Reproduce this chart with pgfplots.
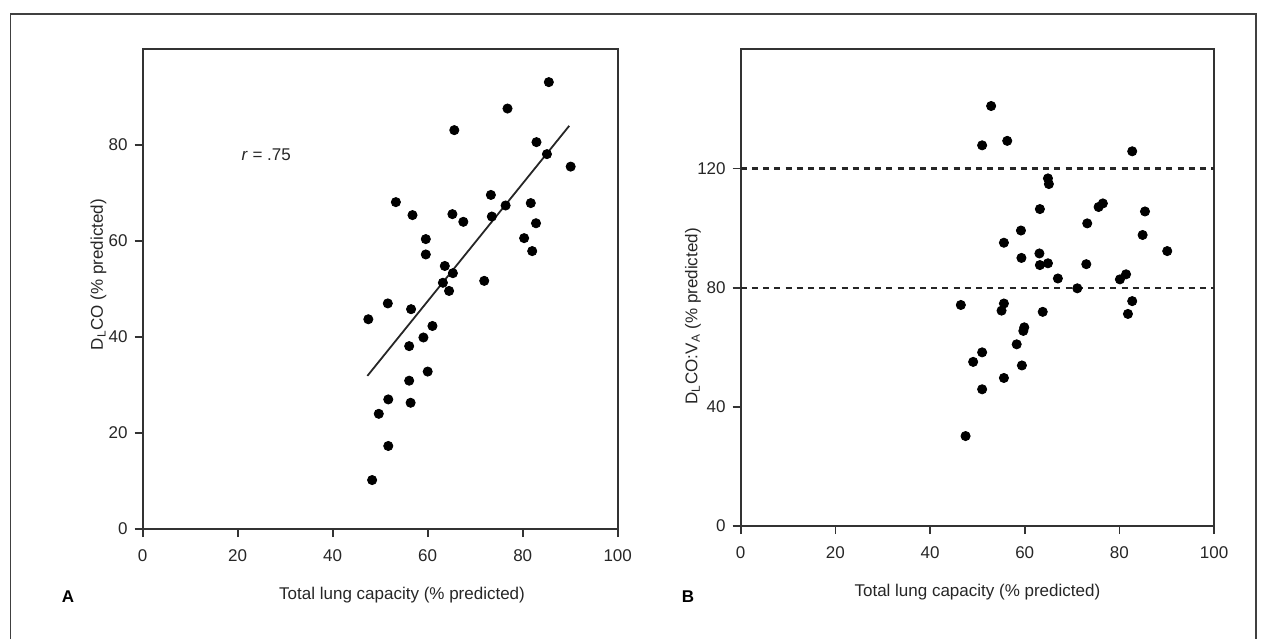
\documentclass[border=0pt]{standalone}
\usepackage{fontspec}
\setmainfont{Liberation Sans}
\usepackage{pgfplots}
\pgfplotsset{compat=1.18}

\pgfplotstableread{
x y
85.5 93.1
76.8 87.6
65.6 83.1
82.9 80.6
85.1 78.1
90.1 75.5
53.3 68.1
73.3 69.6
76.4 67.4
81.7 67.9
56.8 65.4
65.2 65.6
67.5 64.0
73.5 65.1
82.8 63.7
59.6 60.4
80.3 60.6
59.6 57.2
82.0 57.9
63.6 54.8
65.3 53.3
63.2 51.3
64.5 49.6
71.9 51.7
51.6 47.0
47.5 43.7
56.5 45.8
61.0 42.3
59.1 39.9
56.1 38.1
60.0 32.8
56.1 30.9
51.7 27.0
56.4 26.3
49.7 24.0
51.7 17.3
48.3 10.2
}\dataA

\pgfplotstableread{
x y
52.9 141.0
51.0 127.8
56.3 129.3
82.7 125.8
64.9 116.7
65.1 114.8
63.2 106.4
75.6 107.1
76.5 108.3
85.4 105.6
73.2 101.6
59.2 99.2
84.9 97.7
55.6 95.1
90.1 92.3
63.1 91.5
59.3 90.0
63.2 87.6
64.9 88.2
73.0 87.9
67.0 83.1
80.1 82.8
81.4 84.5
71.1 79.8
46.5 74.2
55.6 74.7
55.1 72.3
63.8 71.9
82.7 75.5
81.8 71.2
59.9 66.7
59.7 65.5
58.3 61.0
51.0 58.3
49.1 55.1
59.4 53.9
55.6 49.7
51.0 45.9
47.5 30.2
}\dataB

\pgfplotsset{
  myax/.style={
    scale only axis,
    axis line style={line width=1pt, black!80},
    tick style={line width=0.8pt, black!80},
    tick align=outside,
    xtick pos=bottom, ytick pos=left,
    major tick length=4pt,
    xmin=0, xmax=100, ymin=0,
    xtick={0,20,...,100},
    tick label style={font=\fontsize{8.5}{10}\selectfont, text=black!85},
    xticklabel style={yshift=-3pt},
    /pgf/number format/assume math mode=true,
    label style={font=\fontsize{8.5}{10}\selectfont, text=black!85},
    clip=false,
  },
  dots/.style={only marks, mark=*, mark size=2.3pt, black, mark options={fill=black}},
  dashline/.style={black!85, line width=1.1pt, dash pattern=on 3pt off 2.6pt},
}

\begin{document}
\begin{tikzpicture}
\path[use as bounding box] (0pt,0pt) rectangle (632pt,-319.5pt);
\draw[line width=0.7pt, black!75] (5.35pt,-319.5pt) -- (5.35pt,-7pt) -- (628pt,-7pt) -- (628pt,-319.5pt);

\begin{axis}[myax,
  at={(71.35pt,-264.5pt)}, anchor=south west,
  width=237.5pt, height=240pt,
  ymax=100, ytick={0,20,...,80},
  xlabel={Total lung capacity (\% predicted)},
  xlabel style={at={(axis description cs:0.546,0)}, anchor=center, yshift=-33pt},
  ylabel={D\textsubscript{L}CO (\% predicted)},
  ylabel style={at={(axis description cs:-0.093,0.53)}, anchor=center},
]
\addplot[dots] table[x=x,y=y] {\dataA};
\addplot[black!85, line width=0.9pt] coordinates {(47.3,31.9) (89.8,84.0)};
\node[font=\fontsize{8.5}{10}\selectfont, text=black!85] at (axis cs:26,78) {\textit{r} = .75};
\end{axis}

\begin{axis}[myax,
  at={(370.35pt,-263pt)}, anchor=south west,
  width=236.7pt, height=238.3pt,
  ymax=160, ytick={0,40,80,120},
  xlabel={Total lung capacity (\% predicted)},
  xlabel style={at={(axis description cs:0.5,0)}, anchor=center, yshift=-33pt},
  ylabel={D\textsubscript{L}CO:V\textsubscript{A} (\% predicted)},
  ylabel style={at={(axis description cs:-0.101,0.44)}, anchor=center},
]
\addplot[dashline] coordinates {(0,120) (100,120)};
\addplot[dashline] coordinates {(0,80) (100,80)};
\addplot[dots] table[x=x,y=y] {\dataB};
\end{axis}

\node[font=\bfseries\fontsize{8.5}{10}\selectfont] at (34pt,-298.5pt) {A};
\node[font=\bfseries\fontsize{8.5}{10}\selectfont] at (344pt,-298.5pt) {B};
\end{tikzpicture}
\end{document}
